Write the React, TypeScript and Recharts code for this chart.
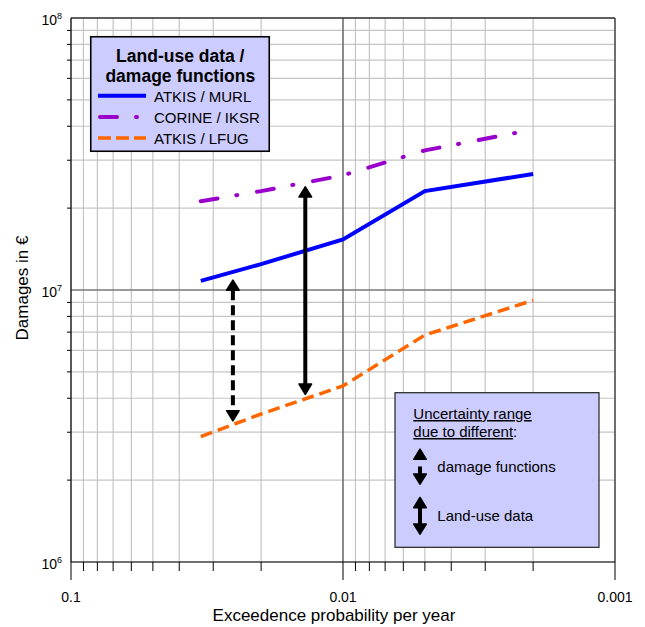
import React from 'react';
import {
  LineChart,
  Line,
  XAxis,
  YAxis,
  CartesianGrid,
  ReferenceLine,
  Legend,
  Customized,
} from 'recharts';

// ---------- data ----------
const PROBABILITIES = [1 / 30, 1 / 50, 1 / 100, 1 / 200, 1 / 500];
const ATKIS_MURL = [1.08e7, 1.245e7, 1.535e7, 2.31e7, 2.67e7];
const CORINE_IKSR = [2.12e7, 2.31e7, 2.64e7, 3.26e7, 3.89e7];
const ATKIS_LFUG = [2.89e6, 3.5e6, 4.44e6, 6.83e6, 9.16e6];

const X_TICKS = [
  0.1, 0.09, 0.08, 0.07, 0.06, 0.05, 0.04, 0.03, 0.02,
  0.01, 0.009, 0.008, 0.007, 0.006, 0.005, 0.004, 0.003, 0.002, 0.001,
];
const X_LABELS: Record<string, string> = { '0.1': '0.1', '0.01': '0.01', '0.001': '0.001' };

const Y_TICKS = [
  1e6, 2e6, 3e6, 4e6, 5e6, 6e6, 7e6, 8e6, 9e6,
  1e7, 2e7, 3e7, 4e7, 5e7, 6e7, 7e7, 8e7, 9e7, 1e8,
];
const Y_EXPONENTS: Record<string, string> = { '1000000': '6', '10000000': '7', '100000000': '8' };

// uncertainty arrows: probability, upper and lower damage
const ARROW_P = [0.0254, 0.01376];
const ARROW_UPPER = [1.095e7, 2.412e7];
const ARROW_LOWER = [3.28e6, 4.11e6];
const ARROW_DASHED = [true, false];

const SERIES_ORDER = ['murl', 'iksr', 'lfug'];

const TABLE = PROBABILITIES.map((p, i) => ({
  p,
  murl: ATKIS_MURL[i],
  iksr: CORINE_IKSR[i],
  lfug: ATKIS_LFUG[i],
}));

const FONT = '"Liberation Sans", Arial, Helvetica, sans-serif';

const SERIES_STYLE: Record<string, { dash?: string; legendDash?: string; cap: 'butt' | 'round'; width: number }> = {
  murl: { cap: 'butt', width: 4 },
  iksr: { dash: '17 19 1 20', legendDash: '17 19 1 20', cap: 'round', width: 4 },
  lfug: { dash: '12 6', legendDash: '13 5', cap: 'butt', width: 3.5 },
};

// ---------- helpers ----------
const head = (x: number, tip: number, dir: number, w = 12.5, h = 11) => (
  <polygon
    points={`${x},${tip + dir * 0.8} ${x - w / 2},${tip + dir * h} ${x + w / 2},${tip + dir * h}`}
    fill="#000"
    stroke="#000"
    strokeWidth={1.6}
    strokeLinejoin="round"
  />
);

const makeArrowShape = (dashed: boolean) => (props: any) => {
  const { x1, y1, y2 } = props;
  const top = Math.min(y1, y2);
  const bot = Math.max(y1, y2);
  return (
    <g>
      <line
        x1={x1}
        x2={x1}
        y1={top + 11}
        y2={bot - 11}
        stroke="#000"
        strokeWidth={4}
        strokeDasharray={dashed ? '10 5' : undefined}
      />
      {head(x1, top, 1)}
      {head(x1, bot, -1)}
    </g>
  );
};

const XTick = (props: any) => {
  const { x, y, payload } = props;
  const label = X_LABELS[String(payload.value)];
  return (
    <g>
      <line x1={x} x2={x} y1={y} y2={y + (label ? 18 : 9)} stroke="#000" strokeWidth={1} />
      {label && (
        <text x={x} y={y + 40} textAnchor="middle" fontSize={14} fill="#000" fontFamily={FONT}>
          {label}
        </text>
      )}
    </g>
  );
};

const YTick = (props: any) => {
  const { x, y, payload } = props;
  const exp = Y_EXPONENTS[String(payload.value)];
  if (exp === undefined) {
    return <line x1={x - 4} x2={x} y1={y} y2={y} stroke="#000" strokeWidth={1} />;
  }
  return (
    <text x={x - 9} y={y + 6.5} textAnchor="end" fontSize={14} fill="#000" fontFamily={FONT}>
      10
      <tspan fontSize={9} dy={-6}>
        {exp}
      </tspan>
    </text>
  );
};

const xLabel = (props: any) => {
  const vb = props.viewBox ?? { x: 71, y: 562, width: 544, height: 65 };
  return (
    <text
      x={vb.x + vb.width / 2 - 9}
      y={vb.y + 59}
      textAnchor="middle"
      fontSize={17}
      fill="#000"
      fontFamily={FONT}
    >
      Exceedence probability per year
    </text>
  );
};

const yLabel = (props: any) => {
  const vb = props.viewBox ?? { x: 0, y: 18, width: 71, height: 544 };
  const cx = vb.x + 28;
  const cy = vb.y + vb.height / 2 - 2;
  return (
    <text
      transform={`translate(${cx},${cy}) rotate(-90)`}
      textAnchor="middle"
      fontSize={17}
      fill="#000"
      fontFamily={FONT}
    >
      Damages in €
    </text>
  );
};

const LegendBox = (props: any) => {
  const payload = [...(props.payload || [])].sort(
    (a: any, b: any) => SERIES_ORDER.indexOf(String(a.dataKey)) - SERIES_ORDER.indexOf(String(b.dataKey)),
  );
  return (
    <svg width={180} height={116} style={{ display: 'block', overflow: 'visible' }}>
      <rect x={0.75} y={0.75} width={178.5} height={114.5} fill="#ccccff" stroke="#000" strokeWidth={1.6} />
      <text x={90.3} y={26} textAnchor="middle" fontWeight="bold" fontSize={17.5} fontFamily={FONT} fill="#000">
        Land-use data /
      </text>
      <text x={90.3} y={45.7} textAnchor="middle" fontWeight="bold" fontSize={17.5} fontFamily={FONT} fill="#000">
        damage functions
      </text>
      {payload.map((entry: any, i: number) => {
        const s = SERIES_STYLE[entry.dataKey] || { cap: 'butt', width: 4 };
        const ly = 59.7 + i * 21.2;
        return (
          <g key={String(entry.dataKey)}>
            <line
              x1={s.cap === 'round' ? 10 : 8}
              x2={56}
              y1={ly}
              y2={ly}
              stroke={entry.color}
              strokeWidth={s.width}
              strokeDasharray={s.legendDash}
              strokeLinecap={s.cap}
            />
            <text x={64} y={ly + 6} fontSize={15} fontFamily={FONT} fill="#000">
              {entry.value}
            </text>
          </g>
        );
      })}
    </svg>
  );
};

const UncertaintyBox = () => (
  <g fontFamily={FONT}>
    <rect x={395} y={392.7} width={204} height={154.6} fill="#ccccff" stroke="#222" strokeWidth={1.2} />
    <text x={413.3} y={419} fontSize={15} fill="#000" style={{ textDecoration: 'underline' }}>
      Uncertainty range
    </text>
    <text x={413.3} y={437} fontSize={15} fill="#000">
      <tspan style={{ textDecoration: 'underline' }}>due to different</tspan>:
    </text>
    {head(420, 448.3, 1)}
    <line x1={420} x2={420} y1={466.5} y2={476} stroke="#000" strokeWidth={4} />
    {head(420, 485, -1)}
    <text x={437.3} y={471.5} fontSize={15} fill="#000">
      damage functions
    </text>
    {head(420, 496.7, 1)}
    <line x1={420} x2={420} y1={506} y2={526} stroke="#000" strokeWidth={4} />
    {head(420, 535, -1)}
    <text x={437.3} y={520.5} fontSize={15} fill="#000">
      Land-use data
    </text>
  </g>
);

export default function App() {
  return (
    <div
      style={{
        position: 'absolute',
        left: 0,
        top: 0,
        width: 645,
        height: 627,
        background: '#fff',
        fontFamily: FONT,
      }}
    >
      <LineChart width={645} height={627} data={TABLE} margin={{ top: 18, right: 30, left: 0, bottom: 0 }}>
        <CartesianGrid stroke="#c4c4c4" strokeWidth={1.2} />
        <XAxis
          dataKey="p"
          type="number"
          scale="log"
          domain={[0.001, 0.1]}
          reversed
          allowDataOverflow
          ticks={X_TICKS}
          interval={0}
          tick={XTick}
          tickLine={false}
          tickSize={0}
          tickMargin={0}
          axisLine={{ stroke: '#000', strokeWidth: 1.2 }}
          height={65}
          label={xLabel}
        />
        <YAxis
          type="number"
          scale="log"
          domain={[1e6, 1e8]}
          allowDataOverflow
          ticks={Y_TICKS}
          interval={0}
          tick={YTick}
          tickLine={false}
          tickSize={0}
          tickMargin={0}
          axisLine={{ stroke: '#000', strokeWidth: 1.2 }}
          width={71}
          label={yLabel}
        />
        <ReferenceLine x={0.01} stroke="#555" strokeWidth={1.2} />
        <ReferenceLine y={1e7} stroke="#555" strokeWidth={1.2} />
        <ReferenceLine x={0.001} stroke="#333" strokeWidth={1.3} />
        <ReferenceLine y={1e8} stroke="#333" strokeWidth={1.3} />
        <Line
          dataKey="murl"
          name="ATKIS / MURL"
          type="linear"
          stroke="#0000ff"
          strokeWidth={SERIES_STYLE.murl.width}
          dot={false}
          activeDot={false}
          isAnimationActive={false}
        />
        <Line
          dataKey="iksr"
          name="CORINE / IKSR"
          type="linear"
          stroke="#9900cc"
          strokeWidth={SERIES_STYLE.iksr.width}
          strokeDasharray={SERIES_STYLE.iksr.dash}
          strokeLinecap="round"
          dot={false}
          activeDot={false}
          isAnimationActive={false}
        />
        <Line
          dataKey="lfug"
          name="ATKIS / LFUG"
          type="linear"
          stroke="#ff6600"
          strokeWidth={SERIES_STYLE.lfug.width}
          strokeDasharray={SERIES_STYLE.lfug.dash}
          dot={false}
          activeDot={false}
          isAnimationActive={false}
        />
        {ARROW_P.map((p, i) => (
          <ReferenceLine
            key={`arrow-${i}`}
            segment={[
              { x: p, y: ARROW_UPPER[i] },
              { x: p, y: ARROW_LOWER[i] },
            ]}
            shape={makeArrowShape(ARROW_DASHED[i])}
          />
        ))}
        <Legend
          layout="vertical"
          align="center"
          verticalAlign="middle"
          content={LegendBox}
          wrapperStyle={{ left: 90, top: 36, width: 180, height: 116 }}
        />
        <Customized component={UncertaintyBox} />
      </LineChart>
    </div>
  );
}
